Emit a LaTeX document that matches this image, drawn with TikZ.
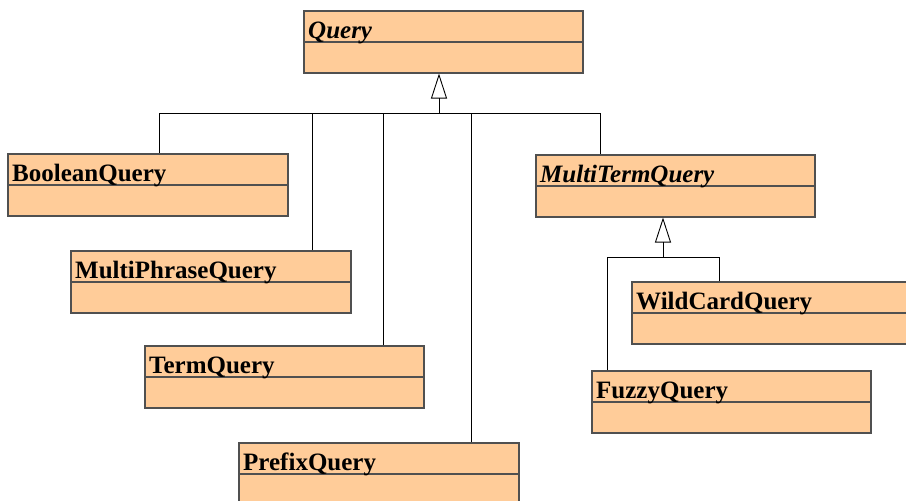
\documentclass[tikz,border=0pt]{standalone}
\usepackage{fontspec}
\setmainfont{Liberation Serif}
\usetikzlibrary{arrows.meta}
\definecolor{classfill}{HTML}{FFCC99}
\definecolor{classdraw}{HTML}{505050}
\tikzset{
  classbox/.style={draw=classdraw, fill=classfill, line width=1.5pt, minimum height=62pt, inner sep=0pt, anchor=north west},
  classname/.style={anchor=base west, inner sep=0pt, font=\fontsize{25}{29}\selectfont\bfseries},
  inherit/.style={-{Triangle[open,length=25pt,width=16pt]}, line width=0.9pt},
  link/.style={line width=0.9pt}
}
\newcommand{\umlclass}[5]{%
  \node[classbox, minimum width=#4pt] (#1) at (#2,#3) {};
  \draw[classdraw, line width=1.5pt] ([yshift=-32pt]#1.north west) -- ([yshift=-32pt]#1.north east);
  \node[classname] at ([xshift=5pt,yshift=-28pt]#1.north west) {#5};
}
\begin{document}
\begin{tikzpicture}[x=1pt,y=-1pt]
  \clip (0,0) rectangle (906,501);
  \fill[white] (0,0) rectangle (906,501);

  \umlclass{query}{303}{10}{279}{\itshape Query}
  \umlclass{boolean}{7}{153}{280}{BooleanQuery}
  \umlclass{multiphrase}{70}{250}{280}{MultiPhraseQuery}
  \umlclass{term}{144}{345}{279}{TermQuery}
  \umlclass{prefix}{238}{442}{280}{PrefixQuery}
  \umlclass{multiterm}{535}{154}{279}{\itshape MultiTermQuery}
  \umlclass{wildcard}{631}{281}{290}{WildCardQuery}
  \umlclass{fuzzy}{591}{370}{279}{FuzzyQuery}

  \coordinate (qbus) at (439,113);
  \coordinate (mbus) at (663,257);
  \draw[inherit] (qbus) -- (qbus |- query.south);
  \draw[inherit] (mbus) -- (mbus |- multiterm.south);

  \draw[link] ([xshift=152pt]boolean.north west) |- (qbus);
  \draw[link] ([xshift=242pt]multiphrase.north west) |- (qbus);
  \draw[link] ([xshift=239pt]term.north west) |- (qbus);
  \draw[link] ([xshift=233pt]prefix.north west) |- (qbus);
  \draw[link] ([xshift=65pt]multiterm.north west) |- (qbus);

  \draw[link] ([xshift=16pt]fuzzy.north west) |- (mbus);
  \draw[link] ([xshift=88pt]wildcard.north west) |- (mbus);
\end{tikzpicture}
\end{document}
